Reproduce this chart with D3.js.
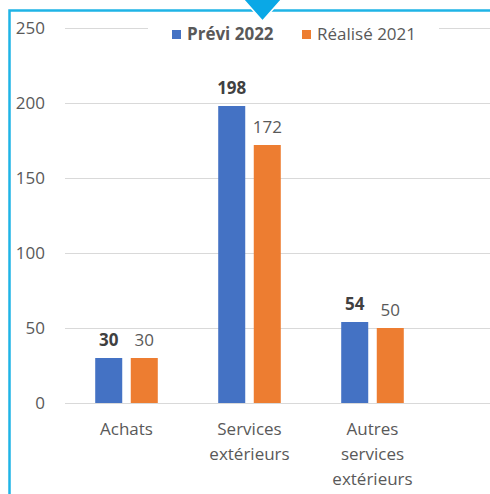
<!DOCTYPE html>
<html>
<head>
<meta charset="utf-8">
<script src="https://cdn.jsdelivr.net/npm/d3@7"></script>
<style>
  body { margin: 0; background: #fff; }
  text { font-family: "Open Sans", sans-serif; }
</style>
</head>
<body>
<div id="chart"></div>
<script>
var categories = [["Achats"], ["Services", "extérieurs"], ["Autres", "services", "extérieurs"]];
var seriesNames = ["Prévi 2022", "Réalisé 2021"];
var previ2022 = [30, 198, 54];
var realise2021 = [30, 172, 50];
var yTicks = [0, 50, 100, 150, 200, 250];

var width = 490, height = 494;
var colors = ["#4472c4", "#ed7d31"];
var catKeys = categories.map(function(c) { return c.join(" "); });
var values = [previ2022, realise2021];
var fs = "17px";

var svg = d3.select("#chart").append("svg")
    .attr("width", width)
    .attr("height", height);

var x0 = d3.scaleBand()
    .domain(catKeys)
    .range([65, 434]);

var x1 = d3.scaleBand()
    .domain(seriesNames)
    .range([0, x0.bandwidth()])
    .paddingInner(0.24)
    .paddingOuter(0.85);

var y = d3.scaleLinear()
    .domain([0, 250])
    .range([403, 28]);

// gridlines
svg.selectAll(".grid")
    .data(yTicks)
    .enter()
    .append("line")
    .attr("x1", 65)
    .attr("x2", width)
    .attr("y1", function(d) { return y(d) + 0.5; })
    .attr("y2", function(d) { return y(d) + 0.5; })
    .attr("stroke", "#d9d9d9")
    .attr("stroke-width", 1);

// y axis labels
var yAxis = d3.axisLeft(y).tickValues(yTicks).tickSize(0).tickPadding(0);
var gy = svg.append("g").attr("transform", "translate(45,0)").call(yAxis);
gy.select(".domain").remove();
gy.selectAll("text")
    .attr("fill", "#595959")
    .attr("font-size", fs)
    .attr("font-family", "Open Sans, sans-serif");

// bars
var group = svg.selectAll(".cat")
    .data(catKeys)
    .enter()
    .append("g")
    .attr("transform", function(d) { return "translate(" + x0(d) + ",0)"; });

group.selectAll("rect")
    .data(function(d, i) {
        return seriesNames.map(function(s, j) { return {s: s, j: j, v: values[j][i]}; });
    })
    .enter()
    .append("rect")
    .attr("x", function(d) { return x1(d.s); })
    .attr("width", x1.bandwidth())
    .attr("y", function(d) { return y(d.v); })
    .attr("height", function(d) { return y(0) - y(d.v); })
    .attr("fill", function(d) { return colors[d.j]; });

group.selectAll(".lbl")
    .data(function(d, i) {
        return seriesNames.map(function(s, j) { return {s: s, j: j, v: values[j][i]}; });
    })
    .enter()
    .append("text")
    .attr("x", function(d) { return x1(d.s) + x1.bandwidth() / 2; })
    .attr("y", function(d) { return y(d.v) - 12; })
    .attr("text-anchor", "middle")
    .attr("font-size", fs)
    .attr("font-weight", function(d) { return d.j === 0 ? "bold" : "normal"; })
    .attr("fill", function(d) { return d.j === 0 ? "#404040" : "#595959"; })
    .text(function(d) { return d.v; });

// category labels
var xl = svg.selectAll(".xl")
    .data(categories)
    .enter()
    .append("text")
    .attr("text-anchor", "middle")
    .attr("font-size", fs)
    .attr("fill", "#595959")
    .attr("x", function(d, i) { return x0(catKeys[i]) + x0.bandwidth() / 2; })
    .attr("y", 435);

xl.selectAll("tspan")
    .data(function(d) { return d; })
    .enter()
    .append("tspan")
    .attr("x", function() { return this.parentNode.getAttribute("x"); })
    .attr("dy", function(d, i) { return i === 0 ? 0 : 25; })
    .text(function(d) { return d; });

// legend (with white background behind, cutting the top gridline)
var legend = svg.append("g");
legend.append("rect")
    .attr("x", 148).attr("y", 20).attr("width", 291).attr("height", 22)
    .attr("fill", "#fff");
var items = [{x: 172, tx: 187}, {x: 302, tx: 317}];
seriesNames.forEach(function(s, j) {
    legend.append("rect")
        .attr("x", items[j].x).attr("y", 30)
        .attr("width", 9).attr("height", 9)
        .attr("fill", colors[j]);
    legend.append("text")
        .attr("x", items[j].tx).attr("y", 40)
        .attr("font-size", fs)
        .attr("font-weight", j === 0 ? "bold" : "normal")
        .attr("fill", "#595959")
        .text(s);
});

// frame
svg.append("path")
    .attr("d", "M9.5," + height + "V10.5H" + width)
    .attr("fill", "none")
    .attr("stroke", "#1fb4e6")
    .attr("stroke-width", 2.5);

// arrow marker at top
svg.append("path")
    .attr("d", "M243,-1L282,-1L262.5,21Z")
    .attr("fill", "#0aa8e6")
    .attr("stroke", "#fff")
    .attr("stroke-width", 1.5);
</script>
</body>
</html>
